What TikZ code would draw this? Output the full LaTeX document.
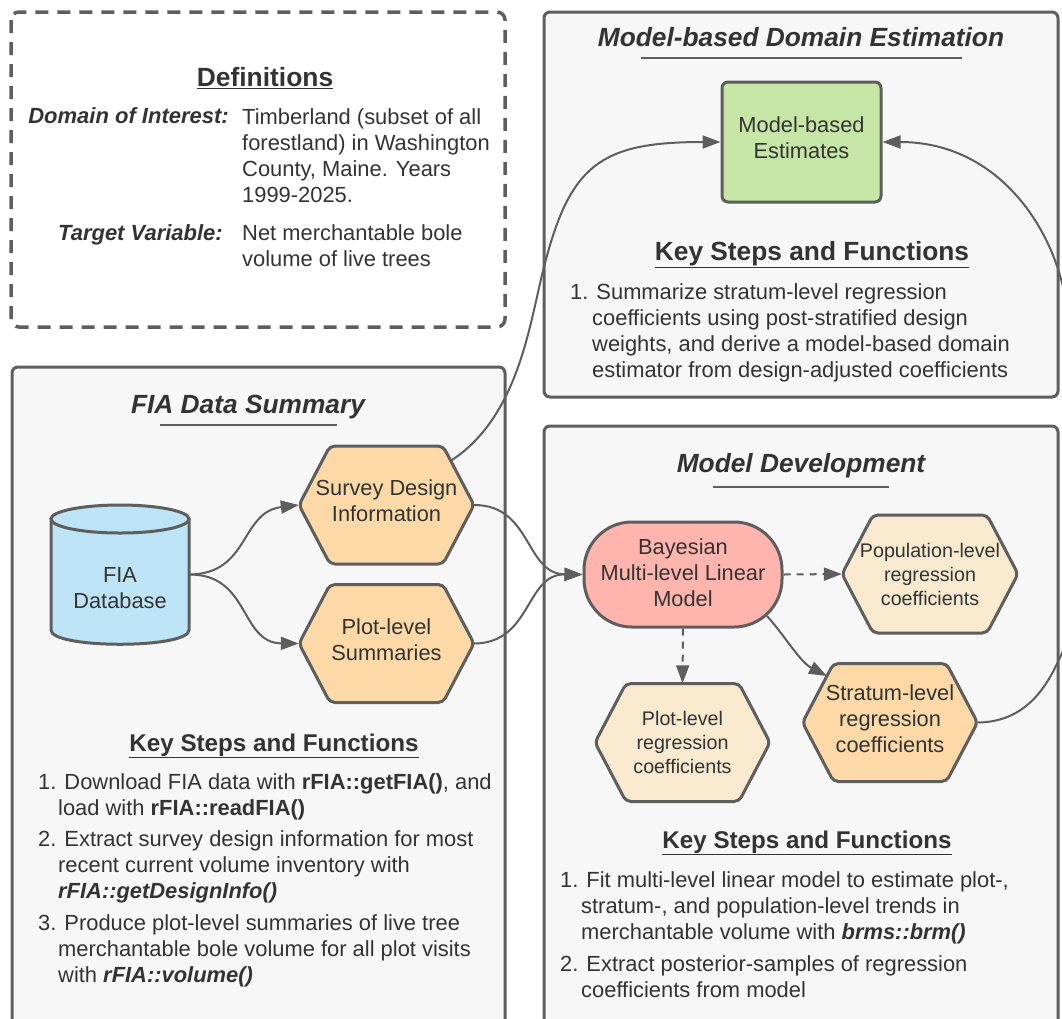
\documentclass[tikz,border=0pt]{standalone}
\usepackage{fontspec}
\setmainfont{Liberation Sans}
\usetikzlibrary{arrows.meta}
\definecolor{ink}{HTML}{333333}
\definecolor{edge}{HTML}{5E5E5E}
\definecolor{panel}{HTML}{F7F7F7}
\definecolor{hexo}{HTML}{FCD9A6}
\definecolor{hexl}{HTML}{F9E9CF}
\definecolor{dbblue}{HTML}{BDE3F6}
\definecolor{bayes}{HTML}{FFB5AE}
\definecolor{green1}{HTML}{C6E6A6}
\newcommand{\fs}[2]{\fontsize{#1}{#2}\selectfont}
\newcommand{\gap}{\hspace*{8pt}}
\tikzset{
  panelbox/.style={draw=edge,line width=3pt,fill=panel,rounded corners=6pt},
  dashbox/.style={draw=edge,line width=3.5pt,fill=white,rounded corners=8pt,dash pattern=on 13pt off 9pt},
  shapeline/.style={draw=edge,line width=3pt},
  label/.style={text=ink,align=center,inner sep=0pt,font=\fs{21.8}{26}},
  smalllabel/.style={text=ink,align=center,inner sep=0pt,font=\fs{19.7}{24}},
  titlet/.style={text=ink,inner sep=0pt,font=\fs{26.3}{30}\bfseries\itshape},
  keyt/.style={text=ink,inner sep=0pt,font=\fs{24.2}{28}\bfseries},
  listt/.style={text=ink,inner sep=0pt,anchor=west,align=left,font=\fs{21.9}{26}},
  rule/.style={draw=edge,line width=2.5pt},
  conn/.style={draw=edge,line width=2pt,-{Triangle[length=18pt,width=13pt]}},
  dconn/.style={conn,dash pattern=on 7pt off 6pt},
}
\newcommand{\hexn}[8]{% name,x,y,w,h,fill,style,text
  \path[shapeline,fill=#6,rounded corners=5pt] (#2-#4/2,#3) -- (#2-#4/2+31,#3-#5/2) -- (#2+#4/2-31,#3-#5/2) -- (#2+#4/2,#3) -- (#2+#4/2-31,#3+#5/2) -- (#2-#4/2+31,#3+#5/2) -- cycle;
  \node[#7,minimum width=#4 pt,minimum height=#5 pt] (#1) at (#2,#3) {#8};
}
\begin{document}
\begin{tikzpicture}[x=1pt,y=-1pt]
\useasboundingbox (0,0) rectangle (1062,1018);
\clip (0,0) rectangle (1062,1018);
\fill[white] (0,0) rectangle (1062,1018);
% panels
\path[dashbox] (11,12) rectangle (505,327);
\path[panelbox] (544,12) rectangle (1058,397);
\path[panelbox] (12,367) rectangle (505,1030);
\path[panelbox] (544,426) rectangle (1058,1030);
% Definitions
\node[text=ink,inner sep=0pt,font=\fs{26.4}{30}\bfseries] (defhead) at (265,78) {\underline{Definitions}};
\node[text=ink,inner sep=0pt,anchor=east,font=\fs{22}{26}\bfseries\itshape] (dom) at (229,116) {Domain of Interest:};
\node[listt] (domt) at (242,156) {Timberland (subset of all\\forestland) in Washington\\County, Maine. Years\\1999-2025.};
\node[text=ink,inner sep=0pt,anchor=east,font=\fs{22}{26}\bfseries\itshape] (tar) at (223,235) {Target Variable:};
\node[listt] (tart) at (242,246) {Net merchantable bole\\volume of live trees};
% titles
\node[titlet] (t1) at (801,37) {Model-based Domain Estimation};
\path[rule] (641,58) -- (962,58);
\node[titlet] (t2) at (248,407) {FIA Data Summary};
\path[rule] (160,425) -- (337,425);
\node[titlet] (t3) at (801,466) {Model Development};
\path[rule] (713,487) -- (889,487);
% key steps
\node[text=ink,inner sep=0pt,font=\fs{26.3}{30}\bfseries] (k1) at (812,255) {\underline{Key Steps and Functions}};
\node[keyt] (k2) at (274,746) {\underline{Key Steps and Functions}};
\node[keyt] (k3) at (807,843) {\underline{Key Steps and Functions}};
% lists
\node[listt] (l1) at (570,333) {1.\gap Summarize stratum-level regression\\\hspace*{22pt}coefficients using post-stratified design\\\hspace*{22pt}weights, and derive a model-based domain\\\hspace*{22pt}estimator from design-adjusted coefficients};
\node[listt] (l2a) at (38,797) {1.\gap Download FIA data with \textbf{rFIA::getFIA()}, and\\\hspace*{20pt}load with \textbf{rFIA::readFIA()}};
\node[listt] (l2b) at (38,867) {2.\gap Extract survey design information for most\\\hspace*{20pt}recent current volume inventory with\\\hspace*{20pt}\textbf{\itshape rFIA::getDesignInfo()}};
\node[listt] (l2c) at (38,951) {3.\gap Produce plot-level summaries of live tree\\\hspace*{20pt}merchantable bole volume for all plot visits\\\hspace*{20pt}with \textbf{\itshape rFIA::volume()}};
\node[listt] (l3a) at (560,908) {1.\gap Fit multi-level linear model to estimate plot-,\\\hspace*{21pt}stratum-, and population-level trends in\\\hspace*{21pt}merchantable volume with \textbf{\itshape brms::brm()}};
\node[listt] (l3b) at (560,977) {2.\gap Extract posterior-samples of regression\\\hspace*{21pt}coefficients from model};
% database cylinder
\path[shapeline,fill=dbblue] (51,519) -- (51,630) .. controls (51,649) and (189,649) .. (189,630) -- (189,519) -- cycle;
\path[shapeline,fill=dbblue] (120,519) ellipse[x radius=69,y radius=14];
\node[label,minimum width=138pt,minimum height=139pt] (db) at (120,574.5) {\rule{0pt}{42pt}FIA\\Database};
% hexagons
\hexn{survey}{386.5}{505}{175}{118}{hexo}{label}{Survey Design\\Information\\[-18pt]}
\hexn{plotsum}{386.5}{643.5}{175}{118}{hexo}{label}{Plot-level\\Summaries\\[-18pt]}
\hexn{pop}{930}{574}{176}{118}{hexl}{smalllabel}{Population-level\\regression\\coefficients}
\hexn{plotreg}{682.5}{742.5}{175}{118}{hexl}{smalllabel}{Plot-level\\regression\\coefficients}
\hexn{strat}{890}{722.5}{175}{118}{hexo}{label}{Stratum-level\\regression\\coefficients\\[-18pt]}
% bayes and estimates
\node[shapeline,fill=bayes,rounded corners=48pt,minimum width=198pt,minimum height=105pt,label,text=ink] (bay) at (683,574.5) {Bayesian\\Multi-level Linear\\Model\\[-22pt]};
\node[shapeline,fill=green1,rounded corners=6pt,minimum width=159pt,minimum height=120pt,label] (est) at (801.5,142) {Model-based\\Estimates\\[-18pt]};
% connectors
\coordinate (surveyout) at (452,460);
\coordinate (baystart) at (767,616);
\coordinate (stratin) at (827,676);
\path[conn] (db.east) .. controls (250,574) and (240,512) .. (survey.west);
\path[conn] (db.east) .. controls (250,574) and (240,643) .. (plotsum.west);
\path[conn] (survey.east) .. controls (532,505) and (525,574) .. (bay.west);
\path[conn] (plotsum.east) .. controls (532,643) and (525,574) .. (bay.west);
\path[conn] (surveyout) .. controls (520,415) and (530,320) .. (544,267) .. controls (570,165) and (600,142) .. (est.west);
\path[conn] (strat.east) .. controls (1030,722) and (1050,680) .. (1062,653) .. controls (1085,590) and (1085,360) .. (1062,283) .. controls (1045,215) and (990,142) .. (est.east);
\path[conn] (baystart) .. controls (785,636) and (800,662) .. (stratin);
\path[dconn] (bay.east) -- (pop.west);
\path[dconn] (bay.south) -- (plotreg.north);
\end{tikzpicture}
\end{document}
